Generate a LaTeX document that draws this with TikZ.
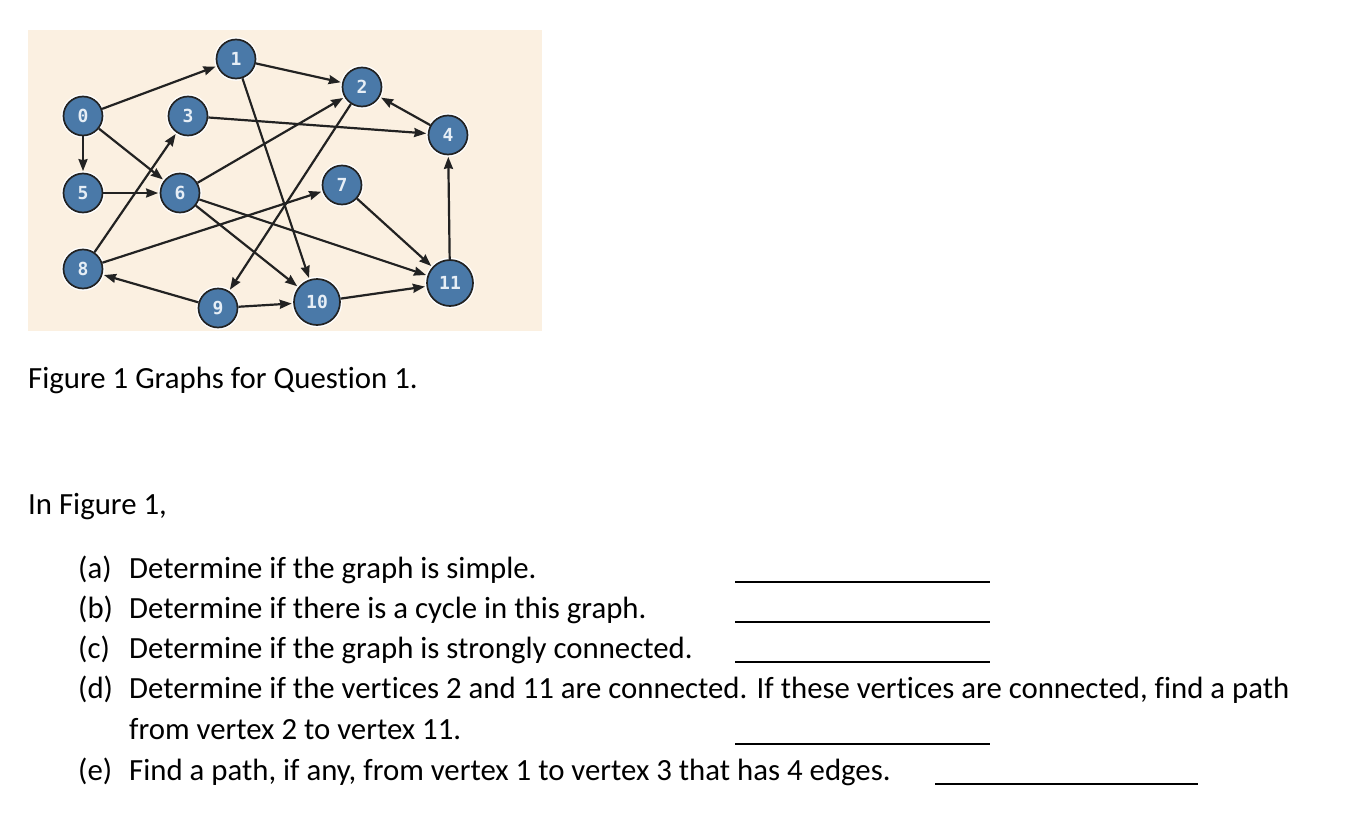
\documentclass[tikz,border=0pt]{standalone}
\usepackage{fontspec}
\setmainfont{Carlito}[Ligatures={NoCommon}]
\newfontfamily\numfont{DejaVu Sans Mono}
\usetikzlibrary{arrows.meta}
\definecolor{bgcream}{HTML}{FBF0E1}
\definecolor{nodeblue}{HTML}{4A79A8}
\definecolor{edgegray}{HTML}{222222}
\definecolor{numwhite}{HTML}{E6EEF6}
\tikzset{
  vtx/.style={circle, fill=nodeblue, draw=edgegray, line width=1.7pt,
    minimum size=39pt, inner sep=0pt, text=numwhite,
    font=\numfont\bfseries\fontsize{18}{18}\selectfont,
    preaction={draw=white, line width=4.5pt}},
  bigvtx/.style={vtx, minimum size=46pt},
  edge/.style={draw=edgegray, line width=2.2pt, -{Stealth[length=12pt,width=9pt,inset=1pt]}, shorten >=1.5pt},
  txt/.style={anchor=base west, inner sep=0pt, font=\fontsize{30.8}{36}\selectfont},
  blank/.style={draw=black, line width=1.3pt}
}
\begin{document}
\begin{tikzpicture}[x=1pt,y=-1pt]
\useasboundingbox (0,0) rectangle (1363,827);
\fill[bgcream] (28,30) rectangle (542,331);
% vertices
\node[vtx] (n0) at (83,116) {0};
\node[vtx] (n1) at (236,59) {1};
\node[vtx] (n2) at (362,87) {2};
\node[vtx] (n3) at (188,116) {3};
\node[vtx] (n4) at (448,135) {4};
\node[vtx] (n5) at (83,193) {5};
\node[vtx] (n6) at (180,193) {6};
\node[vtx] (n7) at (342,185) {7};
\node[vtx] (n8) at (83,269) {8};
\node[vtx] (n9) at (218,308) {9};
\node[bigvtx] (n10) at (317,302) {10};
\node[bigvtx] (n11) at (450,283) {11};
% edges
\draw[edge] (n0) -- (n1);
\draw[edge] (n0) -- (n5);
\draw[edge] (n0) -- (n6);
\draw[edge] (n1) -- (n2);
\draw[edge] (n1) -- (n10);
\draw[edge] (n3) -- (n4);
\draw[edge] (n4) -- (n2);
\draw[edge] (n5) -- (n6);
\draw[edge] (n6) -- (n2);
\draw[edge] (n6) -- (n10);
\draw[edge] (n6) -- (n11);
\draw[edge] (n8) -- (n3);
\draw[edge] (n8) -- (n7);
\draw[edge] (n9) -- (n8);
\draw[edge] (n2) -- (n9);
\draw[edge] (n9) -- (n10);
\draw[edge] (n10) -- (n11);
\draw[edge] (n7) -- (n11);
\draw[edge] (n11) -- (n4);
% texts
\node[txt] (cap) at (28,388) {Figure 1 Graphs for Question 1.};
\node[txt] (intro) at (28,514) {In Figure 1,};
\node[txt] (la) at (78,578) {(a)};
\node[txt] (ta) at (129,578) {Determine if the graph is simple.};
\node[txt] (lb) at (78,618) {(b)};
\node[txt] (tb) at (129,618) {Determine if there is a cycle in this graph.};
\node[txt] (lc) at (78,658) {(c)};
\node[txt] (tc) at (129,658) {Determine if the graph is strongly connected.};
\node[txt] (ld) at (78,698) {(d)};
\node[txt] (td) at (129,698) {Determine if the vertices 2 and 11 are connected. If these vertices are connected, find a path};
\node[txt] (td2) at (129,739) {from vertex 2 to vertex 11.};
\node[txt] (le) at (78,780) {(e)};
\node[txt] (te) at (129,780) {Find a path, if any, from vertex 1 to vertex 3 that has 4 edges.};
% answer blanks
\draw[blank] (735,582) -- (990,582);
\draw[blank] (735,622) -- (990,622);
\draw[blank] (735,662) -- (990,662);
\draw[blank] (735,744) -- (990,744);
\draw[blank] (935,784) -- (1198,784);
\end{tikzpicture}
\end{document}
